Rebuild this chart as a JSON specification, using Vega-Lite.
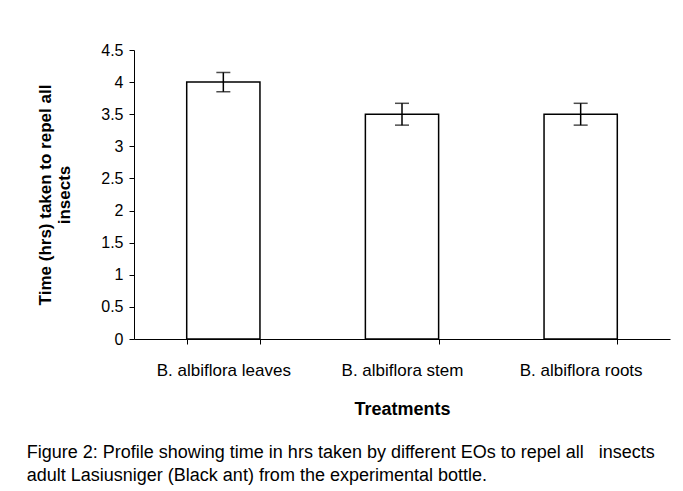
{
  "$schema": "https://vega.github.io/schema/vega-lite/v6.json",
  "width": 536,
  "height": 289,
  "padding": {"left": 26, "top": 42, "right": 17, "bottom": 5},
  "background": "white",
  "data": {
    "values": [
      {"treatment": "B. albiflora leaves", "time": 4.0, "lo": 3.85, "hi": 4.15},
      {"treatment": "B. albiflora stem", "time": 3.5, "lo": 3.33, "hi": 3.67},
      {"treatment": "B. albiflora roots", "time": 3.5, "lo": 3.33, "hi": 3.67}
    ]
  },
  "title": {
    "text": ["Figure 2: Profile showing time in hrs taken by different EOs to repel all\u00a0\u00a0 insects", "adult Lasiusniger (Black ant) from the experimental bottle."],
    "orient": "bottom",
    "anchor": "start",
    "frame": "bounds",
    "font": "Liberation Sans",
    "fontSize": 18,
    "fontWeight": "normal",
    "color": "#000000",
    "lineHeight": 23,
    "offset": 26,
    "dx": -10
  },
  "encoding": {
    "x": {
      "field": "treatment",
      "type": "nominal",
      "sort": null,
      "scale": {"paddingInner": 0.59, "paddingOuter": 0.295},
      "axis": {
        "title": "Treatments",
        "labelAngle": 0,
        "tickBand": "extent",
        "labelPadding": 18,
        "titlePadding": 22
      }
    }
  },
  "layer": [
    {
      "mark": {"type": "bar", "fill": "white", "stroke": "#000000", "strokeWidth": 1.5},
      "encoding": {
        "y": {
          "field": "time",
          "type": "quantitative",
          "scale": {"domain": [0, 4.5], "nice": false},
          "axis": {
            "title": ["Time (hrs) taken to repel all", "insects"],
            "values": [0, 0.5, 1, 1.5, 2, 2.5, 3, 3.5, 4, 4.5],
            "format": "~g",
            "grid": false,
            "labelPadding": 6,
            "titlePadding": 27
          }
        }
      }
    },
    {
      "mark": {"type": "rule", "color": "#000000", "strokeWidth": 1.5},
      "encoding": {
        "y": {
          "field": "lo",
          "type": "quantitative",
          "axis": {
            "title": ["Time (hrs) taken to repel all", "insects"],
            "values": [0, 0.5, 1, 1.5, 2, 2.5, 3, 3.5, 4, 4.5],
            "format": "~g",
            "grid": false,
            "labelPadding": 6,
            "titlePadding": 27
          }
        },
        "y2": {"field": "hi"}
      }
    },
    {
      "mark": {"type": "tick", "color": "#000000", "size": 14, "thickness": 1.5, "orient": "horizontal"},
      "encoding": {
        "y": {
          "field": "lo",
          "type": "quantitative",
          "axis": {
            "title": ["Time (hrs) taken to repel all", "insects"],
            "values": [0, 0.5, 1, 1.5, 2, 2.5, 3, 3.5, 4, 4.5],
            "format": "~g",
            "grid": false,
            "labelPadding": 6,
            "titlePadding": 27
          }
        }
      }
    },
    {
      "mark": {"type": "tick", "color": "#000000", "size": 14, "thickness": 1.5, "orient": "horizontal"},
      "encoding": {
        "y": {
          "field": "hi",
          "type": "quantitative",
          "axis": {
            "title": ["Time (hrs) taken to repel all", "insects"],
            "values": [0, 0.5, 1, 1.5, 2, 2.5, 3, 3.5, 4, 4.5],
            "format": "~g",
            "grid": false,
            "labelPadding": 6,
            "titlePadding": 27
          }
        }
      }
    }
  ],
  "config": {
    "view": {"stroke": null},
    "font": "Liberation Sans",
    "axis": {
      "labelFont": "Liberation Sans",
      "labelColor": "#000000",
      "titleFont": "Liberation Sans",
      "titleFontWeight": "bold",
      "titleColor": "#000000",
      "domainColor": "#000000",
      "tickColor": "#000000",
      "tickSize": 5,
      "domainWidth": 1,
      "tickWidth": 1
    },
    "axisX": {"labelFontSize": 17, "titleFontSize": 18},
    "axisY": {"labelFontSize": 16, "titleFontSize": 17, "titleLineHeight": 19}
  }
}
